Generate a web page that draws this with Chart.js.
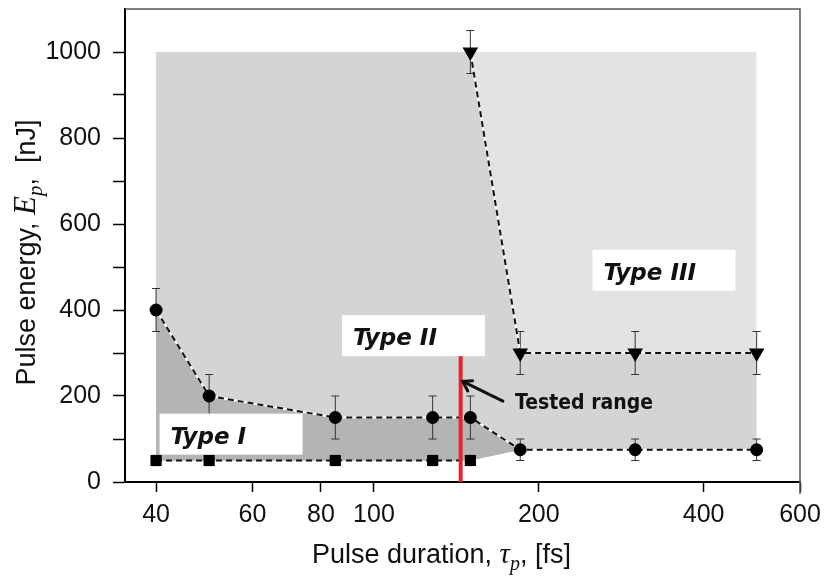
<!DOCTYPE html>
<html>
<head>
<meta charset="utf-8">
<script src="https://cdn.jsdelivr.net/npm/chart.js@4.4.1/dist/chart.umd.min.js"></script>
<style>
	html, body { margin: 0; padding: 0; background: #fff; }
	#chart { display: block; }
</style>
</head>
<body>
<canvas id="chart" width="825" height="587"></canvas>
<script>
// tick values on the log x axis
const xTicks = [40, 60, 80, 100, 200, 400, 600];

// measured thresholds (circle / square / triangle markers)
const circleX = [40, 50, 85, 128, 150, 185, 300, 500];
const circleY = [400, 200, 150, 150, 150, 75, 75, 75];
const circleErr = [50, 50, 50, 50, 50, 25, 25, 25];

const squareX = [40, 50, 85, 128, 150];
const squareY = [50, 50, 50, 50, 50];
const squareErr = [12, 12, 12, 12, 12];

const triangleX = [150, 185, 300, 500];
const triangleY = [1000, 300, 300, 300];
const triangleErr = [50, 50, 50, 50];

// shaded map limits
const mapX = [40, 500];
const mapTop = 1000;
const floorX = [40, 150, 185, 500];
const floorY = [50, 50, 75, 75];

// tested range (red bar)
const testedX = [144, 144];
const testedY = [0, 300];

const regionNames = ["Type I", "Type II", "Type III"];

// where the labels sit (data coords of box top-left)
const labelAnchors = [
	{ x: 40.6, y: 159 },
	{ x: 87.4, y: 388 },
	{ x: 250.7, y: 540 },
];
const testedNote = { text: "Tested range", x: 181, y: 170, tailX: 172, tailY: 188, tipX: 144, tipY: 234 };

const SANS = '"Liberation Sans", Arial, sans-serif';
const SERIF = '"Liberation Serif", "Times New Roman", serif';

const pts = (xs, ys) => xs.map((x, i) => ({ x: x, y: ys[i] }));

function drawErrors(ctx, chart, xs, ys, errs) {
	const sx = chart.scales.x;
	const sy = chart.scales.y;
	xs.forEach((x, i) => {
		const px = sx.getPixelForValue(x);
		const top = sy.getPixelForValue(ys[i] + errs[i]);
		const bot = sy.getPixelForValue(ys[i] - errs[i]);
		ctx.beginPath();
		ctx.moveTo(px, top);
		ctx.lineTo(px, bot);
		ctx.moveTo(px - 4, top);
		ctx.lineTo(px + 4, top);
		ctx.moveTo(px - 4, bot);
		ctx.lineTo(px + 4, bot);
		ctx.stroke();
	});
}

const errorBars = {
	id: "errorBars",
	afterDatasetDraw(chart, args) {
		if (chart.data.datasets[args.index].label !== "fill dark") return;
		const ctx = chart.ctx;
		ctx.save();
		ctx.strokeStyle = "#333";
		ctx.lineWidth = 1;
		drawErrors(ctx, chart, circleX, circleY, circleErr);
		drawErrors(ctx, chart, squareX, squareY, squareErr);
		drawErrors(ctx, chart, triangleX, triangleY, triangleErr);
		ctx.restore();
	},
};

const annotations = {
	id: "annotations",
	afterDatasetsDraw(chart) {
		const ctx = chart.ctx;
		const sx = chart.scales.x;
		const sy = chart.scales.y;
		const area = chart.chartArea;
		ctx.save();

		// frame on top and right
		ctx.strokeStyle = "#555";
		ctx.lineWidth = 1.5;
		ctx.beginPath();
		ctx.moveTo(area.left, area.top);
		ctx.lineTo(area.right, area.top);
		ctx.lineTo(area.right, area.bottom + 12);
		ctx.stroke();

		// region labels
		ctx.font = 'italic bold 23px "DejaVu Sans", Verdana, sans-serif';
		ctx.textBaseline = "alphabetic";
		ctx.textAlign = "left";
		regionNames.forEach((name, i) => {
			const px = sx.getPixelForValue(labelAnchors[i].x);
			const py = sy.getPixelForValue(labelAnchors[i].y);
			ctx.fillStyle = "#fff";
			ctx.fillRect(px, py, 143, 41);
			ctx.fillStyle = "#111";
			ctx.fillText(name, px + 11, py + 30);
		});

		// tested range arrow + note
		const tipX = sx.getPixelForValue(testedNote.tipX);
		const tipY = sy.getPixelForValue(testedNote.tipY);
		const tailX = sx.getPixelForValue(testedNote.tailX);
		const tailY = sy.getPixelForValue(testedNote.tailY);
		const ang = Math.atan2(tailY - tipY, tailX - tipX);
		ctx.strokeStyle = "#111";
		ctx.lineWidth = 3;
		ctx.lineCap = "round";
		ctx.beginPath();
		ctx.moveTo(tailX, tailY);
		ctx.lineTo(tipX + 2, tipY);
		ctx.moveTo(tipX + 12 * Math.cos(ang - 0.5), tipY + 12 * Math.sin(ang - 0.5));
		ctx.lineTo(tipX + 2, tipY);
		ctx.lineTo(tipX + 12 * Math.cos(ang + 0.5), tipY + 12 * Math.sin(ang + 0.5));
		ctx.stroke();

		ctx.font = 'bold 21px "DejaVu Sans Condensed", "DejaVu Sans", Tahoma, sans-serif';
		ctx.fillStyle = "#111";
		ctx.fillText(testedNote.text, sx.getPixelForValue(testedNote.x), sy.getPixelForValue(testedNote.y));
		ctx.restore();
	},
};

function drawParts(ctx, parts, cx, baseline) {
	let width = 0;
	parts.forEach((p) => {
		ctx.font = p.font;
		width += ctx.measureText(p.text).width;
	});
	let x = cx - width / 2;
	parts.forEach((p) => {
		ctx.font = p.font;
		ctx.fillText(p.text, x, baseline + (p.dy || 0));
		x += ctx.measureText(p.text).width;
	});
}

const axisTitles = {
	id: "axisTitles",
	afterDraw(chart) {
		const ctx = chart.ctx;
		const area = chart.chartArea;
		ctx.save();
		ctx.fillStyle = "#111";
		ctx.textAlign = "left";
		ctx.textBaseline = "alphabetic";

		drawParts(ctx, [
			{ text: "Pulse duration, ", font: "27px " + SANS },
			{ text: "τ", font: "italic 29px " + SERIF },
			{ text: "p", font: "italic 20px " + SERIF, dy: 7 },
			{ text: ", [fs]", font: "27px " + SANS },
		], (area.left + area.right) / 2 - 21, 563);

		ctx.translate(35, (area.top + area.bottom) / 2 + 7);
		ctx.rotate(-Math.PI / 2);
		drawParts(ctx, [
			{ text: "Pulse energy, ", font: "27px " + SANS },
			{ text: "E", font: "italic 31px " + SERIF },
			{ text: "p", font: "italic 21px " + SERIF, dy: 7 },
			{ text: ",  [nJ]", font: "27px " + SANS },
		], 0, 0);
		ctx.restore();
	},
};

const dash = [6, 4];
const hidden = { borderWidth: 0, pointRadius: 0, borderColor: "transparent" };

const ctx = document.getElementById("chart").getContext("2d");
new Chart(ctx, {
	type: "line",
	data: {
		datasets: [
			{ label: "floor", data: pts(floorX, floorY), fill: false, order: 11, ...hidden },
			{ label: "fill light", data: pts(mapX, mapX.map(() => mapTop)), fill: 0, backgroundColor: "#e3e3e3", order: 10, ...hidden },
			{ label: "fill medium", data: [{ x: mapX[0], y: mapTop }, ...pts(triangleX, triangleY)], fill: 0, backgroundColor: "#d4d4d4", order: 9, ...hidden },
			{ label: "fill dark", data: pts(circleX.slice(0, 6), circleY.slice(0, 6)), fill: 0, backgroundColor: "#b4b4b4", order: 8, ...hidden },
			{ label: "under circles", data: pts(circleX, circleY), borderColor: "#fff", borderWidth: 2, pointRadius: 0, order: 6 },
			{ label: "under triangles", data: pts(triangleX, triangleY), borderColor: "#fff", borderWidth: 2, pointRadius: 0, order: 6 },
			{
				label: "circles",
				data: pts(circleX, circleY),
				borderColor: "#111",
				borderWidth: 2,
				borderDash: dash,
				pointStyle: "circle",
				pointRadius: 5.5,
				pointBackgroundColor: "#000",
				pointBorderColor: "#000",
				order: 3,
			},
			{
				label: "squares",
				data: pts(squareX, squareY),
				borderColor: "#111",
				borderWidth: 2,
				borderDash: dash,
				pointStyle: "rect",
				pointRadius: 6.5,
				pointBackgroundColor: "#000",
				pointBorderColor: "#000",
				order: 4,
			},
			{
				label: "triangles",
				data: pts(triangleX, triangleY),
				borderColor: "#111",
				borderWidth: 2,
				borderDash: dash,
				pointStyle: "triangle",
				pointRotation: 180,
				pointRadius: 7,
				pointBackgroundColor: "#000",
				pointBorderColor: "#000",
				order: 5,
			},
			{ label: "tested", data: pts(testedX, testedY), borderColor: "#e8232b", borderWidth: 4, pointRadius: 0, order: 1 },
		],
	},
	options: {
		responsive: false,
		animation: false,
		events: [],
		layout: { padding: { top: 4, right: 25, bottom: 0, left: 0 } },
		plugins: {
			legend: { display: false },
			tooltip: { enabled: false },
		},
		scales: {
			x: {
				type: "logarithmic",
				min: 35.1,
				max: 600,
				afterBuildTicks: (scale) => {
					scale.ticks = xTicks.map((v) => ({ value: v }));
				},
				afterFit: (scale) => {
					scale.height = 105;
					scale.paddingLeft = 0;
					scale.paddingRight = 0;
				},
				grid: { drawOnChartArea: false, tickLength: 10, tickColor: "#000", tickWidth: 1.5 },
				border: { color: "#000", width: 2 },
				ticks: {
					autoSkip: false,
					maxRotation: 0,
					padding: 8,
					color: "#111",
					font: { family: SANS, size: 25 },
					callback: (value) => String(value),
				},
			},
			y: {
				min: 0,
				max: 1100,
				afterFit: (scale) => {
					scale.width = 125;
					scale.paddingTop = 0;
					scale.paddingBottom = 0;
				},
				grid: {
					drawOnChartArea: false,
					tickLength: 12,
					tickWidth: 1.5,
					tickColor: (c) => (c.tick && c.tick.value > 1000 ? "transparent" : "#000"),
				},
				border: { color: "#000", width: 2 },
				ticks: {
					stepSize: 100,
					padding: 12,
					color: "#111",
					font: { family: SANS, size: 25 },
					callback: (value) => (value % 200 === 0 && value <= 1000 ? value : ""),
				},
			},
		},
	},
	plugins: [errorBars, annotations, axisTitles],
});
</script>
</body>
</html>
